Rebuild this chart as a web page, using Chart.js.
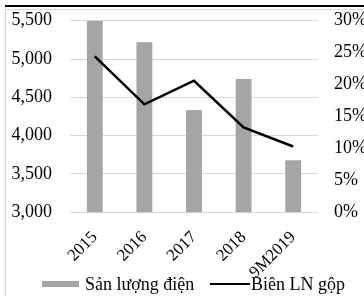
<!DOCTYPE html>
<html>
<head>
<meta charset="utf-8">
<script src="https://cdn.jsdelivr.net/npm/chart.js@4"></script>
<style>
html,body{margin:0;padding:0;background:#fff;width:364px;height:296px;overflow:hidden;}
#wrap{position:relative;width:364px;height:296px;overflow:hidden;}
#title{position:absolute;left:66px;top:-27px;font:20px "Liberation Serif",serif;line-height:20px;height:20px;white-space:nowrap;color:#000;}
#rule{position:absolute;left:5px;top:5px;width:359px;height:2px;background:#000;}
#frame{position:absolute;left:5px;top:9px;width:400px;height:300px;border:1px solid #d9d9d9;box-sizing:border-box;}
canvas{position:absolute;left:0;top:0;}
.lg{position:absolute;font:18px "Liberation Serif",serif;line-height:20px;color:#000;white-space:nowrap;top:274px;}
#lgBox{position:absolute;left:42px;top:281px;width:37px;height:6px;background:#a5a5a5;}
#lgLine{position:absolute;left:210px;top:283px;width:40px;height:2px;background:#000;}
</style>
</head>
<body>
<div id="wrap">
<div id="title">Sản lượng điện và Biên LN gộp</div>
<div id="rule"></div>
<div id="frame"></div>
<canvas id="c" width="364" height="296"></canvas>
<div id="lgBox"></div><div class="lg" id="lgT1" style="left:85px"></div>
<div id="lgLine"></div><div class="lg" id="lgT2" style="left:251px"></div>
</div>
<script>
const categories = ["2015", "2016", "2017", "2018", "9M2019"];
const sanLuongDien = [5500, 5220, 4335, 4740, 3680];
const bienLNGop = [24.4, 16.9, 20.6, 13.3, 10.3];
const leftTicks = [3000, 3500, 4000, 4500, 5000, 5500];
const rightTicks = [0, 5, 10, 15, 20, 25, 30];
const seriesNames = ["Sản lượng điện", "Biên LN gộp"];

document.getElementById('lgT1').textContent = seriesNames[0];
document.getElementById('lgT2').textContent = seriesNames[1];

const FONT = {family: '"Liberation Serif", "Times New Roman", serif', size: 18};
const XFONT = {family: '"Liberation Serif", "Times New Roman", serif', size: 17};
const CLEAR = 'rgba(0,0,0,0)';

new Chart(document.getElementById('c'), {
  data: {
    labels: categories,
    datasets: [
      {
        type: 'bar',
        label: seriesNames[0],
        data: sanLuongDien,
        backgroundColor: '#a5a5a5',
        borderWidth: 0,
        yAxisID: 'y',
        categoryPercentage: 1,
        barPercentage: 0.32,
        order: 2
      },
      {
        type: 'line',
        label: seriesNames[1],
        data: bienLNGop,
        borderColor: '#000',
        backgroundColor: '#000',
        borderWidth: 2.5,
        pointRadius: 0,
        tension: 0,
        yAxisID: 'y1',
        order: 1
      }
    ]
  },
  options: {
    responsive: false,
    animation: false,
    devicePixelRatio: 1,
    layout: {padding: {top: 20.7, left: 0, right: 0, bottom: 0}},
    plugins: {
      title: {display: false},
      tooltip: {enabled: false},
      legend: {display: false}
    },
    scales: {
      x: {
        grid: {display: false, drawTicks: false},
        border: {display: false},
        ticks: {font: XFONT, color: '#000', minRotation: 45, maxRotation: 45, padding: 15, autoSkip: false},
        afterFit: function(s) { s.height = 83.7; }
      },
      y: {
        position: 'left',
        min: 3000, max: 5500,
        afterBuildTicks: function(s) { s.ticks = leftTicks.map(v => ({value: v})); },
        grid: {color: '#d9d9d9', lineWidth: 1, drawTicks: true, tickLength: 18, tickColor: CLEAR},
        border: {display: false},
        ticks: {font: FONT, color: '#000', padding: 0,
          callback: v => v.toLocaleString('en-US')},
        afterFit: function(s) { s.width = 70; }
      },
      y1: {
        position: 'right',
        min: 0, max: 30,
        afterBuildTicks: function(s) { s.ticks = rightTicks.map(v => ({value: v})); },
        grid: {display: true, color: CLEAR, drawOnChartArea: false, drawTicks: true, tickLength: 16, tickColor: CLEAR},
        border: {display: false},
        ticks: {font: FONT, color: '#000', padding: 0, callback: v => v + '%'},
        afterFit: function(s) { s.width = 46; }
      }
    }
  }
});
</script>
</body>
</html>
